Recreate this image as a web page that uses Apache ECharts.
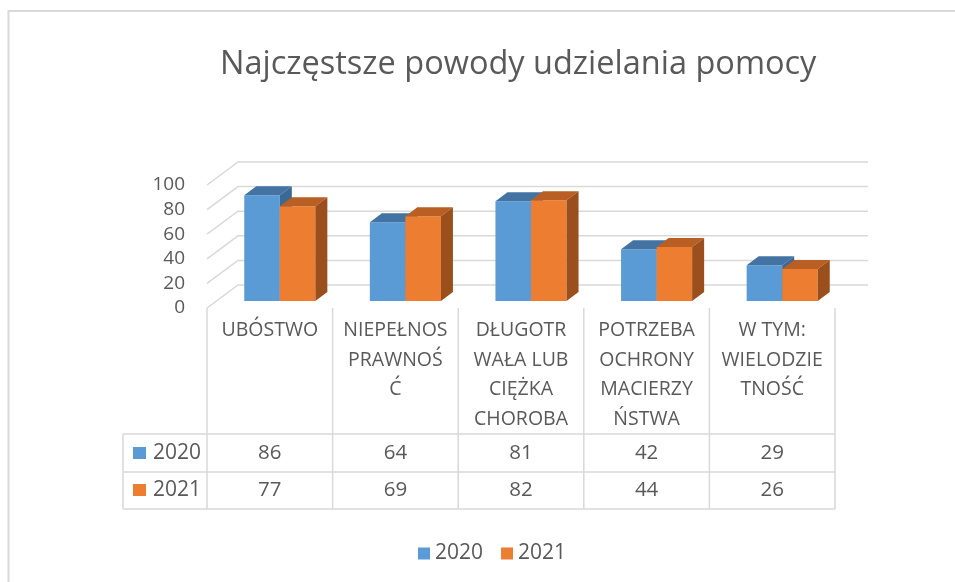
<!DOCTYPE html>
<html>
<head>
<meta charset="utf-8">
<script src="https://cdn.jsdelivr.net/npm/echarts@6/dist/echarts.min.js"></script>
<style>
  html, body { margin: 0; padding: 0; background: #fff; }
  #chart { width: 955px; height: 582px; }
</style>
</head>
<body>
<div id="chart"></div>
<script>
var categories = ['UBÓSTWO', 'NIEPEŁNOS\nPRAWNOŚ\nĆ', 'DŁUGOTR\nWAŁA LUB\nCIĘŻKA\nCHOROBA', 'POTRZEBA\nOCHRONY\nMACIERZY\nŃSTWA', 'W TYM:\nWIELODZIE\nTNOŚĆ'];
var years = ['2020', '2021'];
var values2020 = [86, 64, 81, 42, 29];
var values2021 = [77, 69, 82, 44, 26];
var yTicks = [0, 20, 40, 60, 80, 100];

var FONT = 'Open Sans';
var TXT = '#595959';
var LINE = '#d9d9d9';
// front colour, top colour, side colour
var shades = [
    ['#5b9bd5', '#4373a3', '#3c6896'],
    ['#ed7d31', '#b95f23', '#9b4f1d']
];
// 3D offsets
var FRONT_DX = 10, FRONT_DY = -7;
var DEPTH_DX = 12, DEPTH_DY = -9;
var WALL_DX = 31, WALL_DY = -23;
// table rows
var TABLE_TOP = 308, ROW1 = 434, ROW2 = 472, ROW3 = 509, TABLE_LEFT = 123;

var myChart = echarts.init(document.getElementById('chart'));

function barItem(k) {
    return function (params, api) {
        var i = api.value(0), v = api.value(1);
        var base = api.coord([i, 0]);
        var top = api.coord([i, v]);
        var cw = api.size([1, 0])[0];
        var bw = cw * 0.283;
        var x0 = base[0] + FRONT_DX - (k === 0 ? bw : 0);
        var x1 = x0 + bw;
        var yb = base[1] + FRONT_DY;
        var yt = top[1] + FRONT_DY;
        var c = shades[k];
        return {
            type: 'group',
            children: [
                { type: 'rect', shape: { x: x0, y: yt, width: bw, height: yb - yt }, style: { fill: c[0] } },
                { type: 'polygon', shape: { points: [[x0, yt], [x1, yt], [x1 + DEPTH_DX, yt + DEPTH_DY], [x0 + DEPTH_DX, yt + DEPTH_DY]] }, style: { fill: c[1] } },
                { type: 'polygon', shape: { points: [[x1, yt], [x1 + DEPTH_DX, yt + DEPTH_DY], [x1 + DEPTH_DX, yb + DEPTH_DY], [x1, yb]] }, style: { fill: c[2] } }
            ]
        };
    };
}

var option = {
    animation: false,
    title: {
        text: 'Najczęstsze powody udzielania pomocy',
        left: 215,
        top: 43,
        textStyle: { fontFamily: FONT, fontSize: 32.5, fontWeight: 'normal', color: TXT }
    },
    legend: {
        data: years,
        left: 413,
        top: 538,
        icon: 'rect',
        itemWidth: 12,
        itemHeight: 12,
        itemGap: 18,
        textStyle: { fontFamily: FONT, fontSize: 21, color: TXT }
    },
    grid: { left: 207, right: 120, top: 185, bottom: 274 },
    xAxis: {
        type: 'category',
        data: categories,
        axisLine: { show: false },
        axisTick: { show: false },
        axisLabel: {
            interval: 0,
            margin: 8,
            verticalAlign: 'top',
            lineHeight: 29.5,
            fontFamily: FONT,
            fontSize: 19.5,
            color: TXT
        }
    },
    yAxis: {
        type: 'value',
        min: 0,
        max: 100,
        interval: 20,
        axisLine: { show: false },
        axisTick: { show: false },
        splitLine: { show: false },
        axisLabel: { margin: 22, fontFamily: FONT, fontSize: 19, color: TXT, verticalAlign: 'middle' }
    },
    graphic: [
        // chart frame
        { type: 'polyline', shape: { points: [[8.5, 582], [8.5, 11], [955, 11]] }, style: { stroke: LINE, lineWidth: 2, fill: null } },
        // table horizontal lines + legend key column
        { type: 'line', shape: { x1: TABLE_LEFT, y1: ROW1, x2: 835, y2: ROW1 }, style: { stroke: LINE, lineWidth: 1.5 } },
        { type: 'line', shape: { x1: TABLE_LEFT, y1: ROW2, x2: 835, y2: ROW2 }, style: { stroke: LINE, lineWidth: 1.5 } },
        { type: 'line', shape: { x1: TABLE_LEFT, y1: ROW3, x2: 835, y2: ROW3 }, style: { stroke: LINE, lineWidth: 1.5 } },
        { type: 'line', shape: { x1: TABLE_LEFT, y1: ROW1, x2: TABLE_LEFT, y2: ROW3 }, style: { stroke: LINE, lineWidth: 1.5 } },
        { type: 'rect', shape: { x: 133, y: 447, width: 13, height: 12 }, style: { fill: shades[0][0] } },
        { type: 'rect', shape: { x: 133, y: 484, width: 13, height: 12 }, style: { fill: shades[1][0] } },
        { type: 'text', x: 153, y: (ROW1 + ROW2) / 2, style: { text: years[0], font: '21px ' + FONT, fill: TXT, verticalAlign: 'middle' } },
        { type: 'text', x: 153, y: (ROW2 + ROW3) / 2, style: { text: years[1], font: '21px ' + FONT, fill: TXT, verticalAlign: 'middle' } }
    ],
    series: [
        {
            // gridlines on side and back walls
            type: 'custom',
            silent: true,
            data: yTicks.map(function (t) { return [0, t]; }),
            renderItem: function (params, api) {
                var y = api.coord([0, api.value(1)])[1];
                var l = params.coordSys.x;
                var r = l + params.coordSys.width;
                return {
                    type: 'polyline',
                    shape: { points: [[l, y], [l + WALL_DX, y + WALL_DY], [r + WALL_DX + 2, y + WALL_DY]] },
                    style: { stroke: LINE, lineWidth: 1.5, fill: null }
                };
            }
        },
        {
            // data table cells
            type: 'custom',
            silent: true,
            data: categories.map(function (c, i) { return [i, values2020[i], values2021[i]]; }),
            renderItem: function (params, api) {
                var i = api.value(0);
                var cx = api.coord([i, 0])[0];
                var cw = api.size([1, 0])[0];
                var kids = [
                    { type: 'line', shape: { x1: cx + cw / 2, y1: TABLE_TOP, x2: cx + cw / 2, y2: ROW3 }, style: { stroke: LINE, lineWidth: 1.5 } },
                    { type: 'text', x: cx, y: (ROW1 + ROW2) / 2, style: { text: String(api.value(1)), font: '20.5px ' + FONT, fill: TXT, align: 'center', verticalAlign: 'middle' } },
                    { type: 'text', x: cx, y: (ROW2 + ROW3) / 2, style: { text: String(api.value(2)), font: '20.5px ' + FONT, fill: TXT, align: 'center', verticalAlign: 'middle' } }
                ];
                if (i === 0) {
                    kids.push({ type: 'line', shape: { x1: cx - cw / 2, y1: TABLE_TOP, x2: cx - cw / 2, y2: ROW3 }, style: { stroke: LINE, lineWidth: 1.5 } });
                }
                return { type: 'group', children: kids };
            }
        },
        {
            name: years[0],
            type: 'custom',
            itemStyle: { color: shades[0][0] },
            data: values2020.map(function (v, i) { return [i, v]; }),
            renderItem: barItem(0)
        },
        {
            name: years[1],
            type: 'custom',
            itemStyle: { color: shades[1][0] },
            data: values2021.map(function (v, i) { return [i, v]; }),
            renderItem: barItem(1)
        }
    ]
};
myChart.setOption(option);
</script>
</body>
</html>
